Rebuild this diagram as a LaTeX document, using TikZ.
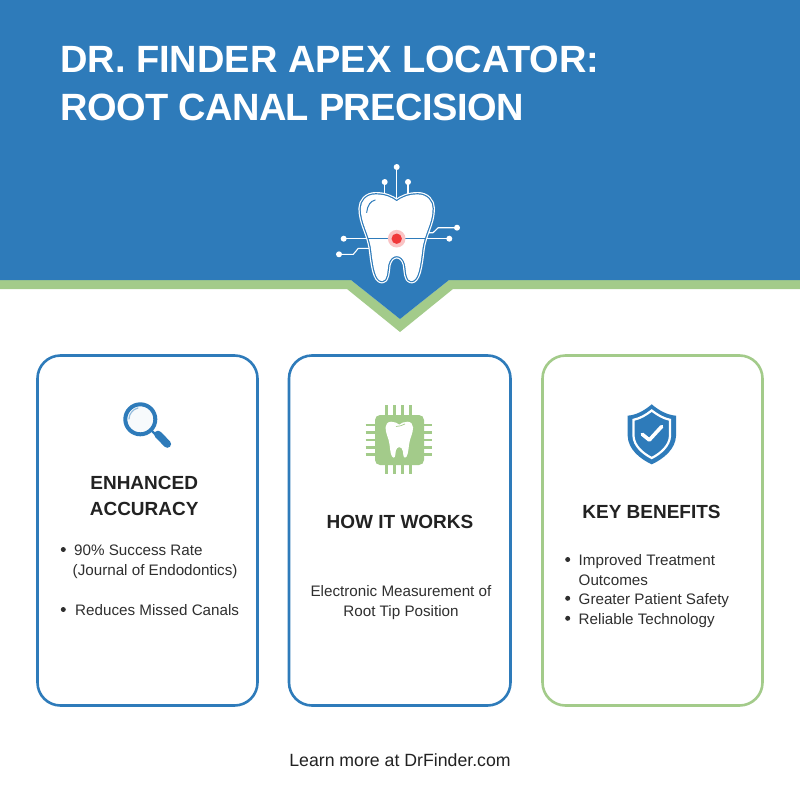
\documentclass[tikz,border=0pt]{standalone}
\usepackage{fontspec}
\setmainfont{Liberation Sans}
\definecolor{bannerblue}{HTML}{2E7BBA}
\definecolor{leaf}{HTML}{A3CB8A}
\definecolor{ink}{HTML}{222222}
\definecolor{soft}{HTML}{2F2F2F}
\definecolor{hot}{HTML}{F0383A}
\newcommand{\toothpath}{(0,2.5) .. controls (-5,-1.5) and (-12,-4.5) .. (-21,-4.5) .. controls (-30,-4.5) and (-35.3,2) .. (-35.3,9) .. controls (-35.3,24) and (-27,34) .. (-25,50) .. controls (-23,67) and (-21,81) .. (-14.5,81) .. controls (-10,81) and (-10,72) .. (-9,65) .. controls (-7.5,59) and (-4,56) .. (0,56) .. controls (4,56) and (7.5,59) .. (9,65) .. controls (10,72) and (10,81) .. (14.5,81) .. controls (21,81) and (23,67) .. (25,50) .. controls (27,34) and (35.3,24) .. (35.3,9) .. controls (35.3,2) and (30,-4.5) .. (21,-4.5) .. controls (12,-4.5) and (5,-1.5) .. (0,2.5) -- cycle}
\tikzset{
  card/.style={draw=#1,line width=2.6pt,rounded corners=23pt,fill=white,outer sep=0pt,inner sep=0pt,anchor=north west},
  head/.style={font=\fontsize{19}{23}\selectfont\bfseries,text=ink,anchor=base,inner sep=0pt},
  body/.style={font=\fontsize{15.2}{19}\selectfont,text=soft,inner sep=0pt},
  bodyl/.style={body,anchor=base west},
  bodyc/.style={body,anchor=base},
  bul/.style={circle,fill=soft,inner sep=0pt,minimum size=5pt},
  wire/.style={draw=white,line width=1.1pt},
  tip/.style={circle,fill=white,inner sep=0pt,minimum size=#1},
  title/.style={font=\fontsize{38}{46}\selectfont\bfseries,text=white,anchor=base west,inner sep=0pt},
  pin/.style={draw=leaf,line width=2.6pt},
}
\begin{document}
\begin{tikzpicture}[x=1pt,y=-1pt]
\useasboundingbox (0,0) rectangle (800,800);
\fill[white] (0,0) rectangle (800,800);
% banner
\fill[leaf] (0,280) -- (351,280) -- (400,319) -- (449,280) -- (800,280) -- (800,289) -- (453,289) -- (400,332) -- (347,289) -- (0,289) -- cycle;
\fill[bannerblue] (0,0) -- (800,0) -- (800,280) -- (449,280) -- (400,319) -- (351,280) -- (0,280) -- cycle;
\node[title] (t1) at (60,72.8) {DR. FINDER APEX LOCATOR:};
\node[title] (t2) at (60,120) {\addfontfeature{LetterSpace=-1.45}ROOT CANAL PRECISION};
% wires
\draw[wire] (396.7,167) -- (396.7,199);
\draw[wire] (384.7,182) -- (384.7,194);
\draw[wire] (408,182) -- (408,194);
\draw[wire] (457,227.7) -- (438.3,227.7) -- (433,232.7) -- (426,232.7);
\draw[wire] (449.3,238.7) -- (426,238.7);
\draw[wire] (343.7,238.7) -- (368,238.7);
\draw[wire] (339,254.3) -- (353.3,254.3) -- (358.3,248.3) -- (369,248.3);
\node[tip=6pt] at (396.7,167) {};
\node[tip=6pt] at (384.7,182) {};
\node[tip=6pt] at (408,182) {};
\node[tip=6pt] at (457,227.7) {};
\node[tip=6pt] at (449.3,238.7) {};
\node[tip=6pt] at (343.7,238.7) {};
\node[tip=6pt] at (339,254.3) {};
% tooth
\begin{scope}[shift={(396.7,199.5)}]
\draw[white,line width=6pt,line join=round] \toothpath;
\draw[bannerblue,line width=3.6pt,line join=round] \toothpath;
\draw[white,fill=white,line width=1.2pt,line join=round] \toothpath;
\draw[bannerblue,line width=1pt,line cap=round] (-30,13) .. controls (-29.5,6) and (-26,1.5) .. (-21.5,0.5);
\draw[bannerblue,line width=1pt] (-29,39.2) -- (29,39.2);
\fill[hot!30] (0,39.2) circle (8.8);
\fill[hot] (0,39.2) circle (5.2);
\end{scope}
% cards
\node[card=bannerblue,minimum width=220pt,minimum height=350pt] (c1) at (37.5,355.5) {};
\node[card=bannerblue,minimum width=221.5pt,minimum height=350pt] (c2) at (289,355.5) {};
\node[card=leaf,minimum width=220pt,minimum height=350pt] (c3) at (542.5,355.5) {};
% magnifier
\fill[bannerblue!4] (140.3,419.3) circle (15);
\draw[bannerblue,line width=4pt] (140.3,419.3) circle (15);
\draw[bannerblue,line width=2.4pt] (151,430) -- (157,436);
\draw[bannerblue,line width=7.6pt,line cap=round] (158,434.5) -- (167.3,444);
\draw[bannerblue!50,line width=1.2pt,line cap=round] (129,419) .. controls (129,414) and (133,409) .. (138,408);
% chip
\foreach \p in {386.7,394.3,402.3,410.7} {\draw[pin] (\p,405) -- (\p,474);}
\foreach \p in {425,432.3,440,447.3,454.3} {\draw[pin] (365.7,\p) -- (431.7,\p);}
\fill[leaf,rounded corners=5pt] (375,415) rectangle (424,465);
\begin{scope}[shift={(399.3,423.6)},xscale=.39,yscale=.42]
\fill[white] \toothpath;
\end{scope}
\draw[leaf,line width=.7pt] (396,426.5) .. controls (399,426) and (402,426) .. (405,424);
% shield
\fill[bannerblue] (651.7,404.3) .. controls (644,411) and (636,415) .. (627.7,415.7) -- (627.7,436) .. controls (628,449) and (640,459) .. (651.7,464.3) .. controls (663.5,459) and (675.5,449) .. (676,436) -- (676,415.7) .. controls (667.5,415) and (659.5,411) .. (651.7,404.3) -- cycle;
\draw[white,line width=2.2pt] (651.7,410.5) .. controls (646,415) and (640,418.5) .. (633.5,419.8) -- (633.5,436) .. controls (634,446) and (643,453.5) .. (651.7,458) .. controls (660.5,453.5) and (669.5,446) .. (670,436) -- (670,419.8) .. controls (663.5,418.5) and (657.5,415) .. (651.7,410.5) -- cycle;
\draw[white,line width=3.6pt,line cap=round,line join=round] (642.3,434.3) -- (649.3,440) -- (661.7,426.5);
% text
\node[head] (h1a) at (144.2,489) {ENHANCED};
\node[head] (h1b) at (144.2,515) {ACCURACY};
\node[head] (h2) at (400,528) {HOW IT WORKS};
\node[head] (h3) at (651.5,518.3) {KEY BENEFITS};
\node[bul] (b1) at (63.3,549.5) {};
\node[bodyl] (l1) at (74,555.7) {90\% Success Rate};
\node[bodyl] (l2) at (72.5,575) {(Journal of Endodontics)};
\node[bul] (b2) at (63.3,609.5) {};
\node[bodyl] (l3) at (75,615.7) {Reduces Missed Canals};
\node[bodyc] (m1) at (401,596.5) {Electronic Measurement of};
\node[bodyc] (m2) at (401,616) {Root Tip Position};
\node[bul] (b3) at (567.7,559.5) {};
\node[bodyl] (r1) at (578.5,565.7) {Improved Treatment};
\node[bodyl] (r2) at (578.5,585) {Outcomes};
\node[bul] (b4) at (567.7,598.3) {};
\node[bodyl] (r3) at (578.5,604) {Greater Patient Safety};
\node[bul] (b5) at (567.7,618.3) {};
\node[bodyl] (r4) at (578.5,624) {Reliable Technology};
\node[font=\fontsize{17.7}{20}\selectfont,text=ink,inner sep=0pt,anchor=base] (foot) at (400,766) {Learn more at DrFinder.com};
\end{tikzpicture}
\end{document}
